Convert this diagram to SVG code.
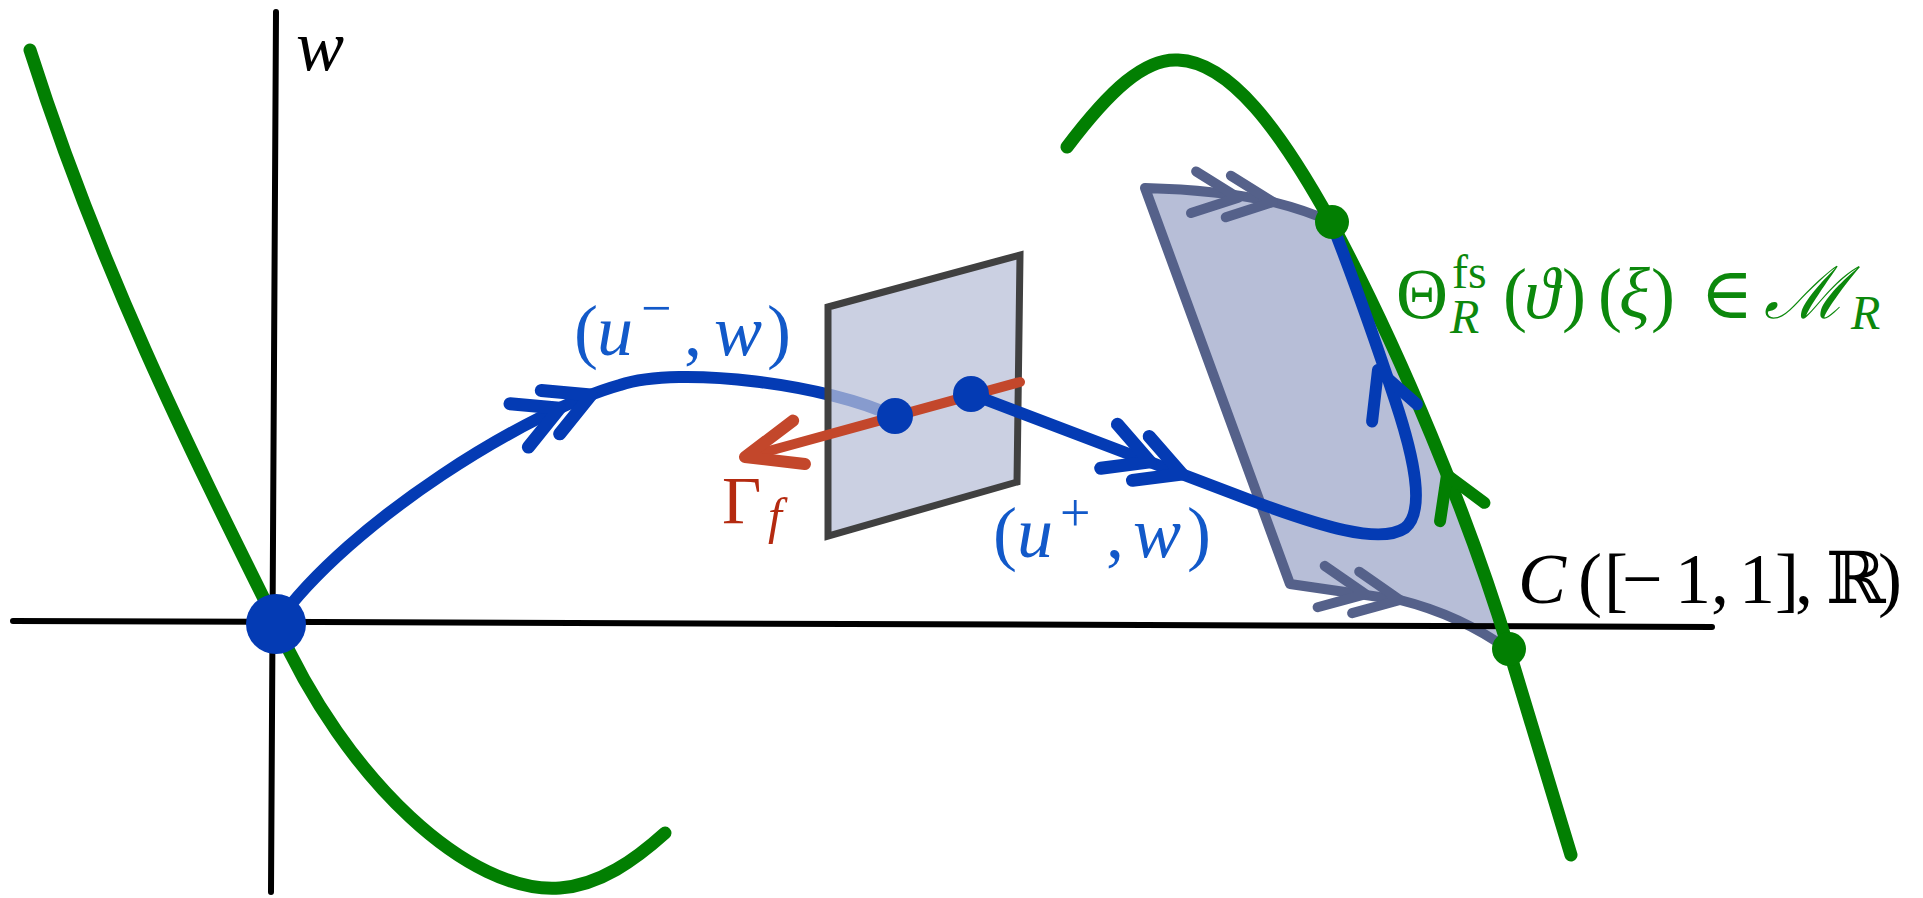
<svg xmlns="http://www.w3.org/2000/svg" xmlns:xlink="http://www.w3.org/1999/xlink" width="1923" height="898" viewBox="0 0 1923 898">
<style>
.ax{stroke:#000;stroke-width:6;stroke-linecap:round;fill:none}
.grn{stroke:#027F02;stroke-width:13;stroke-linecap:round;fill:none}
.blu{stroke:#043BB4;stroke-width:12;stroke-linecap:round;fill:none}
.red{stroke:#C3472B;stroke-linecap:round;stroke-linejoin:round;fill:none}
.slate{stroke:#55618A;stroke-width:10;stroke-linecap:round;stroke-linejoin:round;fill:none}
.chev{fill:none;stroke-linecap:round;stroke-linejoin:round}
text{font-family:'Liberation Serif','DejaVu Serif',serif}
.it{font-style:italic}
.lblB{fill:#1259C9;font-size:72px}
.lblG{fill:#0C880C;font-size:72px}
.lblK{fill:#000;font-size:72px}
.lblR{fill:#B42A10}
</style>
<defs>
<path id="dchevB" d="M-44,-23.5 L0,0 L-44,23.5 M-78,-23.5 L-34,0 L-78,23.5"/>
<path id="dchevS" d="M-45,-21 L0,0 L-45,21 M-80,-21 L-35,0 L-80,21"/>
<path id="chevG" d="M-40,-24 L0,0 L-40,24"/>
<path id="chevL" d="M-46,-24 L0,0 L-46,24"/>
<path id="chevR" d="M-56,-22.5 L0,0 L-56,22.5"/>
</defs>
<rect width="1923" height="898" fill="#fff"/>

<g id="plate-right">
<path d="M1145,188 Q1220,190 1273,202 Q1305,210 1332,222 C1400,350 1470,520 1509,650 Q1460,615 1400,600 L1290,584 Z" fill="#B7BED7"/>
<path class="slate" d="M1332,222 Q1305,210 1273,202 Q1220,190 1145,188 L1290,584 L1400,600 Q1460,615 1509,650"/>
<use xlink:href="#dchevS" class="chev" stroke="#55618A" stroke-width="10" transform="translate(1273,202) rotate(7)"/>
<use xlink:href="#dchevS" class="chev" stroke="#55618A" stroke-width="10" transform="translate(1400,600) rotate(9.7)"/>
</g>

<g id="axes">
<line class="ax" x1="13" y1="621" x2="1712" y2="627"/>
<line class="ax" x1="276" y1="12" x2="271" y2="892"/>
<text class="lblK it" x="296" y="70">w</text>
<text class="lblK" y="603"><tspan class="it" x="1518">C</tspan><tspan x="1578">(</tspan><tspan x="1604">[</tspan><tspan x="1622">−</tspan><tspan x="1675">1</tspan><tspan x="1711">,</tspan><tspan x="1739">1</tspan><tspan x="1775">]</tspan><tspan x="1795">,</tspan><tspan x="1826">ℝ</tspan><tspan x="1878">)</tspan></text>
</g>

<g id="manifold-left">
<path class="grn" d="M30,50 C100,270 190,450 276,623 C345,780 470,895 560,888 C600,885 635,860 665,833"/>
</g>

<g id="manifold-right">
<path class="grn" d="M1067,147 C1110,90 1145,58 1178,60 C1230,62 1280,130 1331,222 C1400,350 1470,520 1509,650 L1571,855"/>
<use xlink:href="#chevG" class="chev" stroke="#027F02" stroke-width="12" transform="translate(1447,475) rotate(-112.4)"/>
<text class="lblG" y="318"><tspan x="1396">Θ</tspan><tspan x="1452" y="288" font-size="48">fs</tspan><tspan class="it" x="1450" y="333" font-size="48">R</tspan><tspan x="1503" y="318">(</tspan><tspan class="it" x="1524">ϑ</tspan><tspan x="1562">)</tspan><tspan x="1598">(</tspan><tspan class="it" x="1619">ξ</tspan><tspan x="1651">)</tspan><tspan x="1700">∈</tspan><tspan x="1764" font-family="'DejaVu Serif',serif" class="it">ℳ</tspan><tspan class="it" x="1851" y="329" font-size="48">R</tspan></text>
</g>

<g id="connectors">
<g id="orbit-in">
<path class="blu" d="M276,624 C350,520 530,410 620,385 C680,365 830,385 895,417"/>
<use xlink:href="#dchevB" class="chev" stroke="#043BB4" stroke-width="13" transform="translate(591,395) rotate(-23)"/>
<text class="lblB" y="355"><tspan x="574">(</tspan><tspan class="it" x="597">u</tspan><tspan x="641" y="326" font-size="54">−</tspan><tspan x="684" y="355">,</tspan><tspan class="it" x="714">w</tspan><tspan x="767">)</tspan></text>
</g>
</g>

<g id="plate-gamma">
<path d="M828,307 L1020,255 L1017,482 L828,536 Z" fill="#B8BFD7" fill-opacity="0.73" stroke="#404040" stroke-width="7"/>
</g>

<g id="gamma-f">
<line class="red" x1="1020" y1="382" x2="747" y2="457" stroke-width="10"/>
<use xlink:href="#chevR" class="chev" stroke="#C3472B" stroke-width="12" transform="translate(745,457) rotate(164.8)"/>
<text class="lblR" y="523" font-size="68"><tspan x="722">Γ</tspan><tspan class="it" x="768" y="533" font-size="50">f</tspan></text>
</g>

<g id="orbit-out">
<path class="blu" d="M971,394 L1250,500 C1320,526 1380,545 1405,528 C1425,512 1415,460 1395,400 C1375,340 1350,270 1332,224"/>
<use xlink:href="#dchevB" class="chev" stroke="#043BB4" stroke-width="13" transform="translate(1182,474) rotate(20.8)"/>
<use xlink:href="#chevL" class="chev" stroke="#043BB4" stroke-width="12" transform="translate(1378,370) rotate(-111)"/>
<text class="lblB" y="557"><tspan x="993">(</tspan><tspan class="it" x="1017">u</tspan><tspan x="1060" y="531" font-size="54">+</tspan><tspan x="1106" y="557">,</tspan><tspan class="it" x="1133">w</tspan><tspan x="1187">)</tspan></text>
</g>

<g id="origin"><circle cx="276" cy="624" r="30" fill="#043BB4"/></g>
<g id="point-minus"><circle cx="895" cy="416" r="18" fill="#043BB4"/></g>
<g id="point-plus"><circle cx="971" cy="394" r="18" fill="#043BB4"/></g>
<g id="point-top"><circle cx="1332" cy="222" r="17" fill="#027F02"/></g>
<g id="point-bottom"><circle cx="1509" cy="649" r="17" fill="#027F02"/></g>
</svg>
